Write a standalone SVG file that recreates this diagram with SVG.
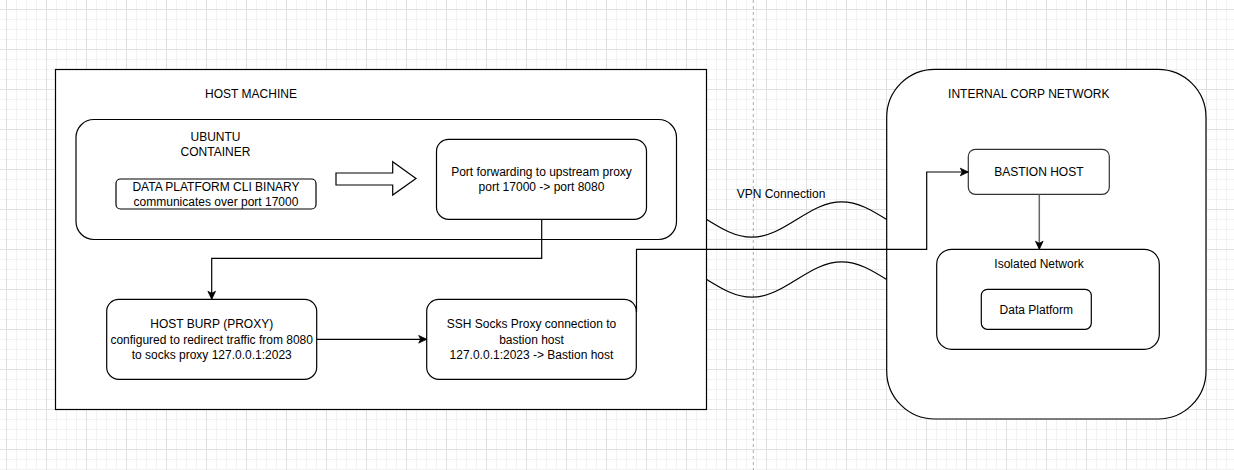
<svg xmlns="http://www.w3.org/2000/svg" width="1234" height="470" viewBox="0 0 1234 470">
<style>
  text { font-family: "Liberation Sans", Arial, Helvetica, sans-serif; font-size: 12px; fill: #000; text-anchor: middle; }
  .box { fill: #fff; stroke: #000; stroke-width: 1.2; }
  .edge { fill: none; stroke: #000; stroke-width: 1.2; }
  .wave { fill: none; stroke: #000; stroke-width: 1.2; }
</style>
<defs>
  <pattern id="grid" x="6" y="9" width="40" height="40" patternUnits="userSpaceOnUse">
    <path d="M10.5,0 V40 M20.5,0 V40 M30.5,0 V40 M0,10.5 H40 M0,20.5 H40 M0,30.5 H40" stroke="#f2f2f2" stroke-width="1" fill="none"/>
    <path d="M0.5,0 V40 M0,0.5 H40" stroke="#e0e0e0" stroke-width="1" fill="none"/>
  </pattern>
  <marker id="arrow" markerUnits="userSpaceOnUse" markerWidth="10" markerHeight="10" viewBox="0 0 10 10" refX="9" refY="5" orient="auto">
    <path d="M1,1.2 L9,5 L1,8.8 L3,5 Z" fill="#000" stroke="#000" stroke-width="0.8"/>
  </marker>
</defs>

<rect x="0" y="0" width="1234" height="470" fill="#fff"/>
<rect x="0" y="0" width="1234" height="470" fill="url(#grid)"/>
<line x1="753.3" y1="0" x2="753.3" y2="470" stroke="#aaa" stroke-width="1" stroke-dasharray="3,3"/>

<g id="host-machine">
  <rect class="box" x="55.5" y="69.5" width="651" height="340"/>
  <text x="251" y="98">HOST MACHINE</text>
</g>

<g id="ubuntu-container">
  <rect class="box" x="76" y="119.5" width="600.5" height="120" rx="18" ry="18"/>
  <text x="215.5" y="141">UBUNTU</text>
  <text x="215.5" y="156">CONTAINER</text>
</g>

<g id="cli-binary">
  <rect class="box" x="116" y="179" width="200" height="30" rx="4.5" ry="4.5"/>
  <text x="216" y="190.5">DATA PLATFORM CLI BINARY</text>
  <text x="216" y="206">communicates over port 17000</text>
</g>

<g id="block-arrow">
  <polygon class="box" points="336,173 392.7,173 392.7,161.7 416,178.5 392.7,195 392.7,185 336,185"/>
</g>

<g id="port-forwarding">
  <rect class="box" x="436.5" y="139.3" width="210" height="80" rx="12" ry="12"/>
  <text x="541.5" y="176">Port forwarding to upstream proxy</text>
  <text x="541.5" y="191">port 17000 -&gt; port 8080</text>
</g>

<g id="host-burp">
  <rect class="box" x="106.7" y="299.3" width="210" height="80" rx="12" ry="12"/>
  <text x="211.7" y="328">HOST BURP (PROXY)</text>
  <text x="211.7" y="343.5">configured to redirect traffic from 8080</text>
  <text x="211.7" y="359">to socks proxy 127.0.0.1:2023</text>
</g>

<g id="ssh-proxy">
  <rect class="box" x="426.7" y="299.3" width="209.6" height="80" rx="12" ry="12"/>
  <text x="531.5" y="328">SSH Socks Proxy connection to</text>
  <text x="531.5" y="343.5">bastion host</text>
  <text x="531.5" y="359">127.0.0.1:2023 -&gt; Bastion host</text>
</g>

<g id="corp-network">
  <rect class="box" x="886.7" y="69.3" width="319.3" height="349.7" rx="48" ry="48"/>
  <text x="1028.8" y="97.5">INTERNAL CORP NETWORK</text>
</g>

<g id="bastion-host">
  <rect class="box" x="968.3" y="149.3" width="141" height="45" rx="7" ry="7" style="stroke:#333"/>
  <text x="1038.8" y="176.3">BASTION HOST</text>
</g>

<g id="isolated-network">
  <rect class="box" x="936.7" y="249.3" width="222.6" height="100" rx="15" ry="15"/>
  <text x="1039" y="267.5">Isolated Network</text>
</g>

<g id="data-platform">
  <rect class="box" x="981.3" y="289.3" width="110" height="40" rx="6" ry="6"/>
  <text x="1036.3" y="313.5">Data Platform</text>
</g>

<g id="vpn-connection">
  <path class="wave" d="M706.7,219.5 C721.4,228.6 735.4,237.2 751.7,237.2 C768,237.2 782,228.6 796.7,219.5 C811.4,210.4 825.4,201.8 841.7,201.8 C858,201.8 872,210.4 886.7,219.5"/>
  <path class="wave" d="M706.7,279.5 C721.4,288.6 735.4,297.2 751.7,297.2 C768,297.2 782,288.6 796.7,279.5 C811.4,270.4 825.4,261.8 841.7,261.8 C858,261.8 872,270.4 886.7,279.5"/>
  <text x="781" y="197.5">VPN Connection</text>
</g>

<g id="connectors">
  <path class="edge" d="M541.7,219.3 V258.3 H211.7 V299.3" marker-end="url(#arrow)"/>
  <path class="edge" d="M316.7,339.3 H426.7" marker-end="url(#arrow)"/>
  <path class="edge" d="M636.5,312 V249.3 H926.7 V172 H968.3" marker-end="url(#arrow)"/>
  <path class="edge" d="M1039.3,194.7 V249.3" style="stroke:#666;stroke-width:1.5" marker-end="url(#arrow)"/>
</g>
</svg>
